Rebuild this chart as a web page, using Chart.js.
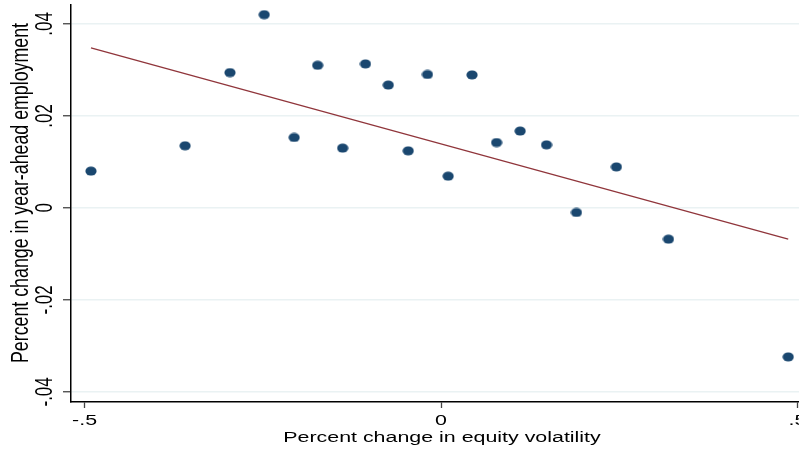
<!DOCTYPE html>
<html>
<head>
<meta charset="utf-8">
<script src="https://cdn.jsdelivr.net/npm/chart.js@4.4.1/dist/chart.umd.min.js"></script>
<style>
  html, body { margin: 0; padding: 0; background: #ffffff; overflow: hidden; }
  #wrap { position: absolute; left: 0; top: 0; width: 826px; height: 452px; }
</style>
</head>
<body>
<div id="wrap"><canvas id="volChart"></canvas></div>
<script>
// binned scatter: equity volatility change vs. year-ahead employment change
const volChange = [-0.491, -0.359, -0.296, -0.248, -0.206, -0.173, -0.138, -0.106, -0.074, -0.046,
                   -0.019, 0.010, 0.0435, 0.078, 0.111, 0.148, 0.190, 0.246, 0.319, 0.487];
const empChange = [0.0080, 0.0135, 0.0294, 0.0420, 0.0153, 0.0310, 0.0130, 0.0313, 0.0267, 0.0124,
                   0.0290, 0.0069, 0.0289, 0.0142, 0.0167, 0.0137, -0.0010, 0.0089, -0.0068, -0.0324];

// fitted line end points
const fitX = [-0.491, 0.487];
const fitY = [0.0348, -0.0068];

// axis ticks
const xTickVals = [-0.5, 0, 0.5];
const xTickLabels = ['-.5', '0', '.5'];
const yTickVals = [-0.04, -0.02, 0, 0.02, 0.04];
const yTickLabels = ['-.04', '-.02', '0', '.02', '.04'];

const xTitle = 'Percent change in equity volatility';
const yTitle = 'Percent change in year-ahead employment';

const FONT = '"Liberation Sans", Arial, sans-serif';
const STRETCH = 1.38; // text in the picture is widened

// slightly wide dot marker
const dot = document.createElement('canvas');
dot.width = 12; dot.height = 10;
const dctx = dot.getContext('2d');
dctx.fillStyle = '#1a476f';
dctx.beginPath();
dctx.ellipse(6, 5, 5.6, 4.5, 0, 0, Math.PI * 2);
dctx.fill();

// draws tick labels and axis titles
const textPlugin = {
  id: 'stataText',
  afterDraw(chart) {
    const ctx = chart.ctx;
    const xs = chart.scales.x, ys = chart.scales.y;
    ctx.save();
    ctx.fillStyle = '#000000';
    ctx.textAlign = 'center';
    ctx.textBaseline = 'alphabetic';

    // x tick labels
    ctx.font = '15.5px ' + FONT;
    xTickVals.forEach((v, i) => {
      ctx.save();
      ctx.translate(xs.getPixelForValue(v), 425);
      ctx.scale(STRETCH, 1);
      ctx.fillText(xTickLabels[i], 0, 0);
      ctx.restore();
    });

    // x title
    ctx.save();
    ctx.translate(442, 442);
    ctx.scale(STRETCH, 1);
    ctx.fillText(xTitle, 0, 0);
    ctx.restore();

    // y tick labels, rotated
    ctx.font = '17px ' + FONT;
    yTickVals.forEach((v, i) => {
      ctx.save();
      ctx.translate(52, ys.getPixelForValue(v));
      ctx.rotate(-Math.PI / 2);
      ctx.scale(1, STRETCH);
      ctx.fillText(yTickLabels[i], 0, 0);
      ctx.restore();
    });

    // y title
    ctx.font = '17.8px ' + FONT;
    ctx.save();
    ctx.translate(28, 193);
    ctx.rotate(-Math.PI / 2);
    ctx.scale(1, STRETCH);
    ctx.fillText(yTitle, 0, 0);
    ctx.restore();

    ctx.restore();
  }
};

const ctxVol = document.getElementById('volChart').getContext('2d');

new Chart(ctxVol, {
  type: 'scatter',
  data: {
    datasets: [
      {
        type: 'line',
        data: fitX.map((x, i) => ({ x: x, y: fitY[i] })),
        borderColor: '#90353b',
        borderWidth: 1.3,
        pointRadius: 0,
        fill: false,
        order: 2,
      },
      {
        data: volChange.map((x, i) => ({ x: x, y: empChange[i] })),
        pointStyle: dot,
        pointRadius: 5,
        order: 1,
      },
    ],
  },
  options: {
    responsive: true,
    maintainAspectRatio: false,
    animation: false,
    layout: { autoPadding: false, padding: { top: 5, left: 0, right: 0, bottom: 0 } },
    plugins: {
      legend: { display: false },
      tooltip: { enabled: false },
    },
    scales: {
      x: {
        type: 'linear',
        min: -0.519,
        max: 0.54,
        afterBuildTicks: (s) => { s.ticks = xTickVals.map(v => ({ value: v })); },
        afterFit: (s) => { s.height = 50; },
        ticks: { display: false },
        grid: { drawOnChartArea: false, drawTicks: true, tickLength: 6, tickColor: '#444444', tickWidth: 1.3 },
        border: { display: true, color: '#000000', width: 1.5 },
      },
      y: {
        type: 'linear',
        min: -0.0422,
        max: 0.0441,
        afterBuildTicks: (s) => { s.ticks = yTickVals.map(v => ({ value: v })); },
        afterFit: (s) => { s.width = 71; },
        ticks: { display: false },
        grid: { color: '#eaf2f3', lineWidth: 1.5, drawTicks: true, tickLength: 8, tickColor: '#444444', tickWidth: 1.3 },
        border: { display: true, color: '#000000', width: 1.5 },
      },
    },
  },
  plugins: [textPlugin],
});
</script>
</body>
</html>
